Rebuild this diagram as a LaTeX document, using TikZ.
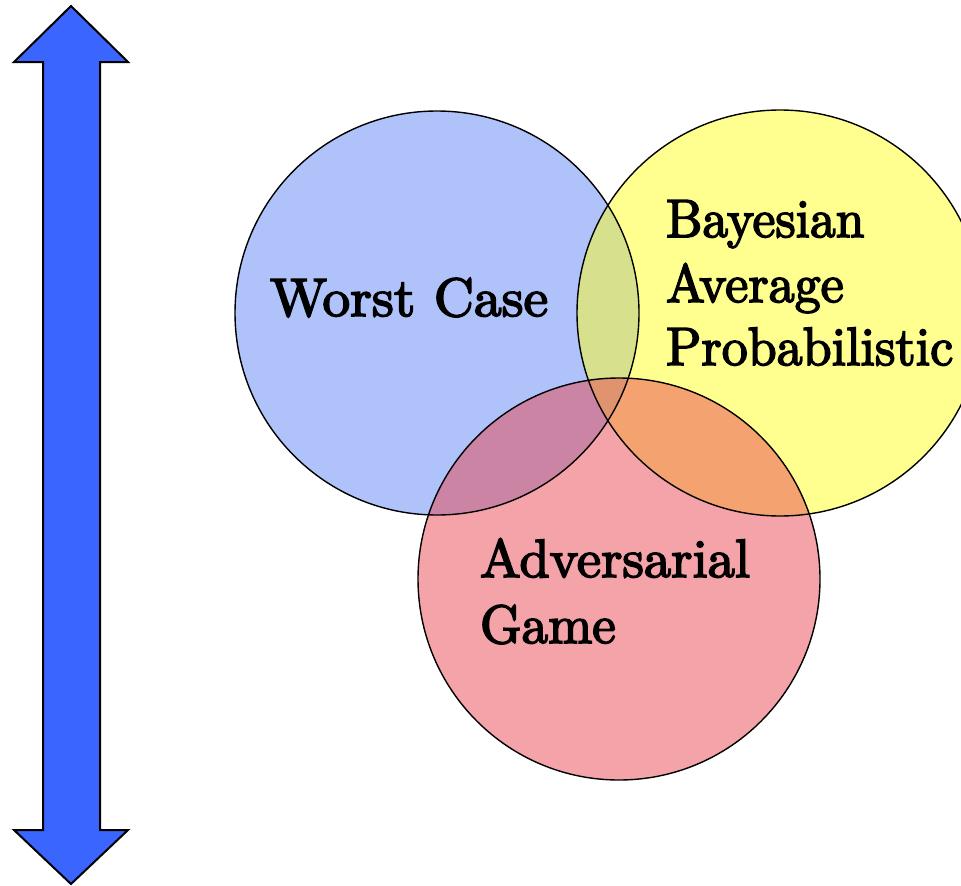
\documentclass[tikz,border=0pt]{standalone}
\usepackage{fontspec}
\newfontfamily\lblfont{Latin Modern Roman}[FakeBold=3]
\definecolor{arrowblue}{RGB}{58,102,255}
\definecolor{cblue}{RGB}{95,133,245}
\definecolor{cyellow}{RGB}{255,255,33}
\definecolor{cred}{RGB}{233,71,81}
\newcommand{\lbltext}[2]{\scalebox{#1}[5.4]{\lblfont\fontsize{10}{12}\selectfont #2}}
\tikzset{
  setfill/.style={fill opacity=0.5},
  setline/.style={draw=black, line width=1.4pt},
  lbl/.style={anchor=base west, inner sep=0pt, outer sep=0pt, text=black},
}
\begin{document}
\begin{tikzpicture}[x=1pt,y=-1pt]
\useasboundingbox (0,0) rectangle (961,886);
\clip (0,0) rectangle (961,886);
% double arrow
\draw[fill=arrowblue, line width=2pt, line join=miter]
  (71,6) coordinate (toptip) -- (128,62) -- (100,62) -- (100,830) -- (128,830)
  -- (71,884) coordinate (bottip) -- (14,830) -- (43,830) -- (43,62) -- (14,62) -- cycle;
% circles: fills
\fill[cblue, setfill] (437,313) circle (202);
\fill[cyellow, setfill] (780,313) circle (203);
\fill[cred, setfill] (619,579) circle (201);
% outlines
\draw[setline] (437,313) circle (202);
\draw[setline] (780,313) circle (203);
\draw[setline] (619,579) circle (201);
% labels
\node[lbl] (worst) at (270,316) {\lbltext{5.55}{Worst Case}};
\node[lbl] (bayes) at (666,237) {\lbltext{5.15}{Bayesian}};
\node[lbl] (avg) at (666,302) {\lbltext{5.2}{Average}};
\node[lbl] (prob) at (666,365) {\lbltext{5.2}{Probabilistic}};
\node[lbl] (adv) at (480,577) {\lbltext{5.45}{Adversarial}};
\node[lbl] (game) at (480,643) {\lbltext{5.3}{Game}};
\end{tikzpicture}
\end{document}
